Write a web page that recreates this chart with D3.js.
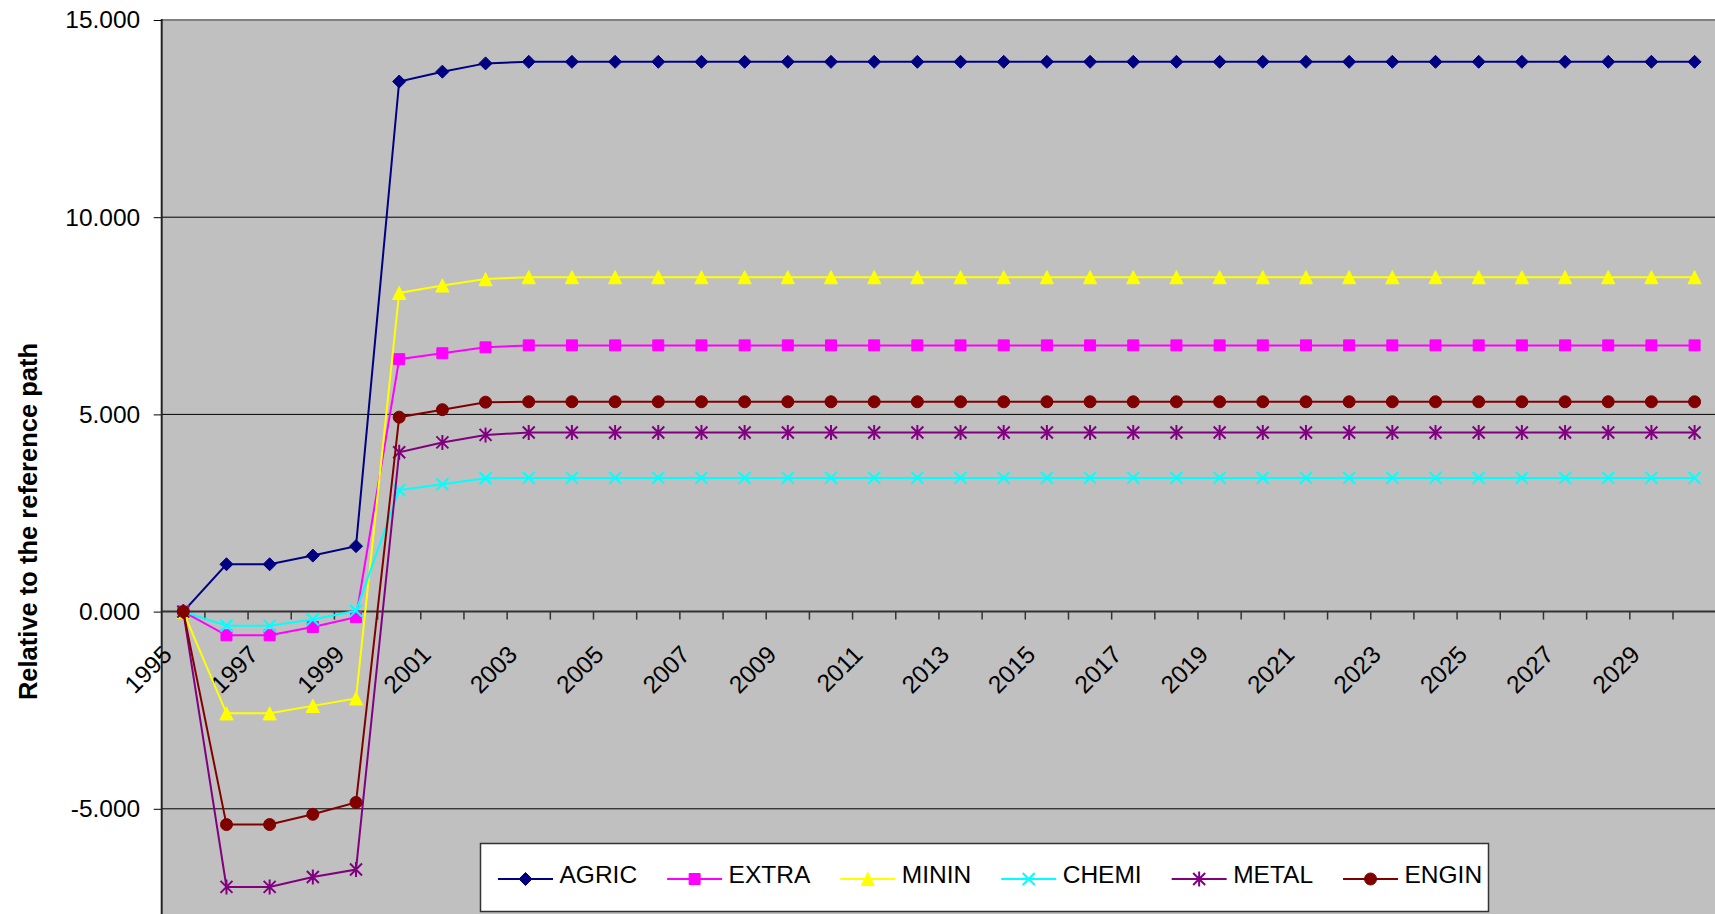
<!DOCTYPE html>
<html>
<head>
<meta charset="utf-8">
<script src="https://cdn.jsdelivr.net/npm/d3@7"></script>
<style>
  html, body { margin: 0; padding: 0; background: #ffffff; overflow: hidden; }
  svg { display: block; font-family: "Liberation Sans", Arial, sans-serif; }
</style>
</head>
<body>
<svg id="chart" width="1715" height="914"></svg>
<script>
// ---------- DATA ----------
const years = [1995,1996,1997,1998,1999,2000,2001,2002,2003,2004,2005,2006,2007,2008,2009,2010,2011,2012,
               2013,2014,2015,2016,2017,2018,2019,2020,2021,2022,2023,2024,2025,2026,2027,2028,2029,2030];
const yTicks = [-5, 0, 5, 10, 15];
const xLabelYears = [1995,1997,1999,2001,2003,2005,2007,2009,2011,2013,2015,2017,2019,2021,2023,2025,2027,2029];

const agric = [0.00,1.20,1.20,1.42,1.66,13.44,13.69,13.90,13.94,13.94,13.94,13.94,13.94,13.94,13.94,13.94,13.94,13.94,
               13.94,13.94,13.94,13.94,13.94,13.94,13.94,13.94,13.94,13.94,13.94,13.94,13.94,13.94,13.94,13.94,13.94,13.94];
const extra = [0.00,-0.60,-0.60,-0.39,-0.14,6.40,6.55,6.70,6.75,6.75,6.75,6.75,6.75,6.75,6.75,6.75,6.75,6.75,
               6.75,6.75,6.75,6.75,6.75,6.75,6.75,6.75,6.75,6.75,6.75,6.75,6.75,6.75,6.75,6.75,6.75,6.75];
const minin = [0.00,-2.58,-2.58,-2.39,-2.20,8.08,8.27,8.43,8.48,8.48,8.48,8.48,8.48,8.48,8.48,8.48,8.48,8.48,
               8.48,8.48,8.48,8.48,8.48,8.48,8.48,8.48,8.48,8.48,8.48,8.48,8.48,8.48,8.48,8.48,8.48,8.48];
const chemi = [0.00,-0.36,-0.36,-0.20,0.02,3.08,3.23,3.38,3.39,3.39,3.39,3.39,3.39,3.39,3.39,3.39,3.39,3.39,
               3.39,3.39,3.39,3.39,3.39,3.39,3.39,3.39,3.39,3.39,3.39,3.39,3.39,3.39,3.39,3.39,3.39,3.39];
const metal = [0.00,-6.98,-6.98,-6.73,-6.54,4.04,4.29,4.48,4.54,4.54,4.54,4.54,4.54,4.54,4.54,4.54,4.54,4.54,
               4.54,4.54,4.54,4.54,4.54,4.54,4.54,4.54,4.54,4.54,4.54,4.54,4.54,4.54,4.54,4.54,4.54,4.54];
const engin = [0.00,-5.40,-5.40,-5.14,-4.84,4.93,5.12,5.31,5.32,5.32,5.32,5.32,5.32,5.32,5.32,5.32,5.32,5.32,
               5.32,5.32,5.32,5.32,5.32,5.32,5.32,5.32,5.32,5.32,5.32,5.32,5.32,5.32,5.32,5.32,5.32,5.32];

const seriesNames = ["AGRIC","EXTRA","MININ","CHEMI","METAL","ENGIN"];
const seriesValues = [agric, extra, minin, chemi, metal, engin];
const seriesColors = ["#000080","#FF00FF","#FFFF00","#00FFFF","#800080","#800000"];
const seriesMarkers = ["diamond","square","triangle","x","star","circle"];

// ---------- LAYOUT ----------
const svg = d3.select("#chart");
const W = 1715, H = 914;
const plotLeft = 161.7, plotTop = 20;
const bandW = 43.18;
const plotRight = plotLeft + bandW * years.length;
const font = 24.5;

const x = d3.scaleBand().domain(years).range([plotLeft, plotRight]).paddingInner(0).paddingOuter(0);
const xc = d => x(d) + x.bandwidth() / 2;
const y = d3.scaleLinear().domain([-10, 15]).range([1006, plotTop]);

svg.append("rect").attr("width", W).attr("height", H).attr("fill", "#ffffff");

// plot area
svg.append("rect")
  .attr("x", plotLeft).attr("y", plotTop)
  .attr("width", plotRight - plotLeft).attr("height", y(-10) - plotTop)
  .attr("fill", "#C0C0C0");

// gridlines
svg.append("g").selectAll("line")
  .data(yTicks.filter(v => v !== 0 && v !== 15))
  .join("line")
  .attr("x1", plotLeft).attr("x2", plotRight)
  .attr("y1", d => y(d)).attr("y2", d => y(d))
  .attr("stroke", "#000000").attr("stroke-width", 1);

// top border
svg.append("line")
  .attr("x1", plotLeft).attr("x2", plotRight)
  .attr("y1", y(15)).attr("y2", y(15))
  .attr("stroke", "#808080").attr("stroke-width", 2);

// y axis
const fmt = d3.format(".3f");
const yAxis = d3.axisLeft(y).tickValues(yTicks)
  .tickFormat(d => fmt(d).replace("\u2212", "-"))
  .tickSize(8).tickPadding(13.5);
const gy = svg.append("g").attr("transform", `translate(${plotLeft},0)`).call(yAxis);
gy.select(".domain").remove();
gy.selectAll(".tick line").attr("stroke", "#000000").attr("stroke-width", 1);
gy.selectAll(".tick text").attr("font-size", font).attr("fill", "#000000")
  .attr("font-family", '"Liberation Sans", Arial, sans-serif');
svg.append("line")
  .attr("x1", plotLeft).attr("x2", plotLeft)
  .attr("y1", plotTop - 1).attr("y2", H + 5)
  .attr("stroke", "#222222").attr("stroke-width", 2);

// x axis (at zero)
const y0 = y(0);
svg.append("line")
  .attr("x1", plotLeft).attr("x2", plotRight)
  .attr("y1", y0).attr("y2", y0)
  .attr("stroke", "#333333").attr("stroke-width", 2);
svg.append("g").selectAll("line")
  .data(years.slice(1))
  .join("line")
  .attr("x1", d => x(d)).attr("x2", d => x(d))
  .attr("y1", y0).attr("y2", y0 + 8)
  .attr("stroke", "#333333").attr("stroke-width", 1.5);

const xAxis = d3.axisBottom(x).tickValues(xLabelYears).tickSize(0);
const gx = svg.append("g").attr("transform", `translate(0,${y0})`).call(xAxis);
gx.select(".domain").remove();
gx.selectAll(".tick line").remove();
gx.selectAll(".tick text")
  .attr("x", null).attr("y", null).attr("dy", null)
  .attr("text-anchor", "end")
  .attr("transform", "translate(-10,44.5) rotate(-45)")
  .attr("font-size", font).attr("fill", "#000000")
  .attr("font-family", '"Liberation Sans", Arial, sans-serif');

// y axis title
svg.append("text")
  .attr("transform", `translate(36.5,521.5) rotate(-90)`)
  .attr("text-anchor", "middle")
  .attr("font-size", 25.5).attr("font-weight", "bold").attr("fill", "#000000")
  .text("Relative to the reference path");

// ---------- MARKERS ----------
function drawMarker(g, type, color) {
  if (type === "circle") {
    g.append("circle").attr("r", 6).attr("fill", color).attr("stroke", color).attr("stroke-width", 1);
    return;
  }
  const paths = {
    diamond: "M0,-6.5L6.5,0L0,6.5L-6.5,0Z",
    square: "M-5.5,-5.5H5.5V5.5H-5.5Z",
    triangle: "M0,-6.6L6.6,6.6L-6.6,6.6Z",
    x: "M-6,-6L6,6M-6,6L6,-6",
    star: "M-6,-6L6,6M-6,6L6,-6M0,-7.5L0,7.5"
  };
  const open = (type === "x" || type === "star");
  g.append("path").attr("d", paths[type])
    .attr("fill", open ? "none" : color)
    .attr("stroke", color)
    .attr("stroke-width", open ? 2 : 1);
}

// ---------- SERIES ----------
const line = d3.line().x(d => xc(d.year)).y(d => y(d.value));
const seriesG = svg.append("g");
seriesNames.forEach((name, i) => {
  const data = years.map((yr, j) => ({ year: yr, value: seriesValues[i][j] }));
  const g = seriesG.append("g");
  g.append("path").datum(data).attr("d", line)
    .attr("fill", "none").attr("stroke", seriesColors[i]).attr("stroke-width", 2);
  g.selectAll("g.m").data(data).join("g").attr("class", "m")
    .attr("transform", d => `translate(${xc(d.year)},${y(d.value)})`)
    .each(function () { drawMarker(d3.select(this), seriesMarkers[i], seriesColors[i]); });
});

// ---------- LEGEND ----------
const lg = svg.append("g");
lg.append("rect").attr("x", 480.5).attr("y", 843.5).attr("width", 1008).attr("height", 68)
  .attr("fill", "#ffffff").attr("stroke", "#333333").attr("stroke-width", 1.5);
let lx = 498;
const ly = 879;
seriesNames.forEach((name, i) => {
  const it = lg.append("g");
  it.append("line").attr("x1", lx).attr("x2", lx + 55).attr("y1", ly).attr("y2", ly)
    .attr("stroke", seriesColors[i]).attr("stroke-width", 2);
  const mg = it.append("g").attr("transform", `translate(${lx + 27.5},${ly})`);
  drawMarker(mg, seriesMarkers[i], seriesColors[i]);
  const t = it.append("text").attr("x", lx + 61.5).attr("y", 883.3)
    .attr("font-size", font).attr("fill", "#000000").text(name);
  const tw = t.node().getComputedTextLength();
  lx = lx + 61.5 + tw + 30;
});
</script>
</body>
</html>
